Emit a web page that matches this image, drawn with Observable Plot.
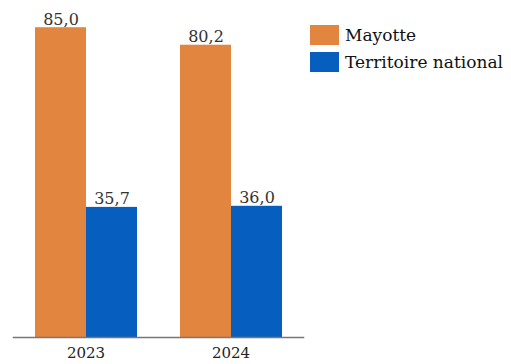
<!DOCTYPE html>
<html>
<head>
<meta charset="utf-8">
<script src="https://cdn.jsdelivr.net/npm/d3@7"></script>
<script src="https://cdn.jsdelivr.net/npm/@observablehq/plot@0.6"></script>
<style>
  html, body { margin: 0; padding: 0; background: #fff; }
  #wrap { position: relative; width: 511px; height: 364px; }
  #legend { position: absolute; left: 310px; top: 21px; font-family: "DejaVu Serif", serif; font-size: 17px; color: #111; }
  .item { display: flex; align-items: center; height: 27px; }
  .sw { width: 29px; height: 20px; margin-right: 6px; flex: none; }
</style>
</head>
<body>
<div id="wrap"><div id="legend"></div></div>
<script>
const years = ["2023", "2024"];
const series = ["Mayotte", "Territoire national"];
const mayotte = [85.0, 80.2];
const national = [35.7, 36.0];
const colors = ["#E2853F", "#065EBE"];

const rows = [];
years.forEach((y, i) => {
  rows.push({year: y, series: series[0], value: mayotte[i]});
  rows.push({year: y, series: series[1], value: national[i]});
});
const fmt = v => v.toFixed(1).replace(".", ",");

const chart = Plot.plot({
  width: 511,
  height: 364,
  marginLeft: 12,
  marginRight: 208,
  marginTop: 9,
  marginBottom: 27,
  style: {fontFamily: "DejaVu Serif, serif", fontSize: "15px", color: "#333"},
  fx: {domain: years, padding: 0, label: null},
  x: {domain: series, paddingInner: 0, paddingOuter: 0.408, axis: null},
  y: {domain: [0, 90], axis: null},
  color: {domain: series, range: colors},
  marks: [
    Plot.barY(rows, {fx: "year", x: "series", y: "value", fill: "series"}),
    Plot.text(rows, {fx: "year", x: "series", y: "value", text: d => fmt(d.value), lineAnchor: "bottom", dy: -3, fontSize: 16, fill: "#333"}),
    Plot.frame({anchor: "bottom", facet: "super", stroke: "#777", strokeWidth: 1.5}),
    Plot.axisFx({anchor: "bottom", tickSize: 0, tickPadding: 10, label: null, fontSize: 15, fill: "#222"})
  ]
});
document.getElementById("wrap").prepend(chart);

const legend = document.getElementById("legend");
series.forEach((s, i) => {
  const it = document.createElement("div");
  it.className = "item";
  const sw = document.createElement("span");
  sw.className = "sw";
  sw.style.background = colors[i];
  const t = document.createElement("span");
  t.textContent = s;
  it.append(sw, t);
  legend.append(it);
});
</script>
</body>
</html>
